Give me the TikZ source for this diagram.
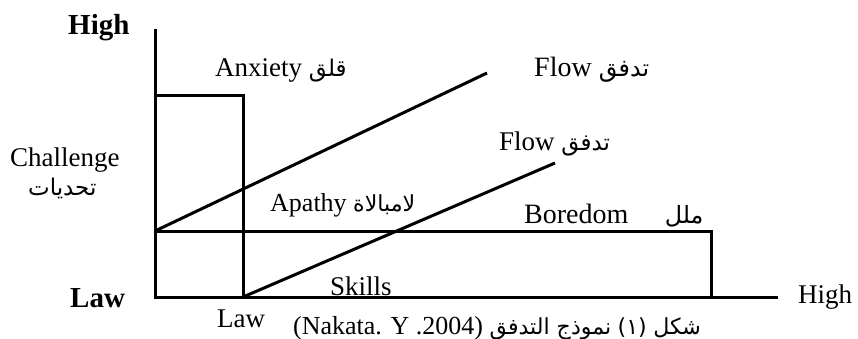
\documentclass[tikz,border=0pt]{standalone}
\usepackage{fontspec}
\setmainfont{Liberation Serif}
\newfontfamily\arabicfont[Script=Arabic,Scale=0.85]{DejaVu Sans}
\TeXXeTstate=1
\newcommand{\artxt}[1]{{\arabicfont\beginR #1\endR}}
\tikzset{
  lbl/.style={inner sep=0pt, anchor=base west, font=\fontsize{27}{30}\selectfont},
  lblb/.style={lbl, font=\fontsize{29}{32}\selectfont\bfseries},
  axisline/.style={line width=3pt, black},
}
\begin{document}
\begin{tikzpicture}[x=1pt,y=-1pt]
\useasboundingbox (0,0) rectangle (858,339);
% key points
\coordinate (top) at (155,29);
\coordinate (O) at (155,297);
\coordinate (xend) at (778,297);
\coordinate (A1) at (155,96);
\coordinate (A2) at (243,96);
\coordinate (A3) at (243,297);
\coordinate (B1) at (155,231);
\coordinate (B2) at (711,231);
\coordinate (B3) at (711,297);
\coordinate (F1) at (487,73);
\coordinate (F2) at (555,163);
% lines
\draw[axisline] (top) -- (O) -- (xend);
\draw[axisline] (A1) -- (A2) -- (A3);
\draw[axisline] (B1) -- (B2) -- (B3);
\draw[axisline] (B1) -- (F1);
\draw[axisline] (A3) -- (F2);
% labels
\node[lblb] (yhigh) at (68,35) {High};
\node[lblb] (ylaw) at (70,307) {Law};
\node[lbl] (chal) at (10,167) {Challenge};
\node[lbl] (chalar) at (28,195) {\artxt{تحديات}};
\node[lbl] (anx) at (215,77) {Anxiety \artxt{قلق}};
\node[lbl, font=\fontsize{28}{30}\selectfont] (flow1) at (534,77) {Flow \artxt{تدفق}};
\node[lbl] (flow2) at (499,150) {Flow \artxt{تدفق}};
\node[lbl, font=\fontsize{26}{28}\selectfont] (apa) at (270,211) {Apathy \artxt{لامبالاة}};
\node[lbl, font=\fontsize{28}{30}\selectfont] (bor) at (524,223) {Boredom\hspace{1.3em}\artxt{ملل}};
\node[lbl] (ski) at (330,295) {Skills};
\node[lbl] (xlaw) at (217,327) {Law};
\node[lbl] (xhigh) at (798,303) {High};
\node[lbl, font=\fontsize{26}{28}\selectfont] (cap) at (293,334) {(Nakata. Y .2004) \artxt{نموذج التدفق} {\arabicfont (١)} \artxt{شكل}};
\end{tikzpicture}
\end{document}
